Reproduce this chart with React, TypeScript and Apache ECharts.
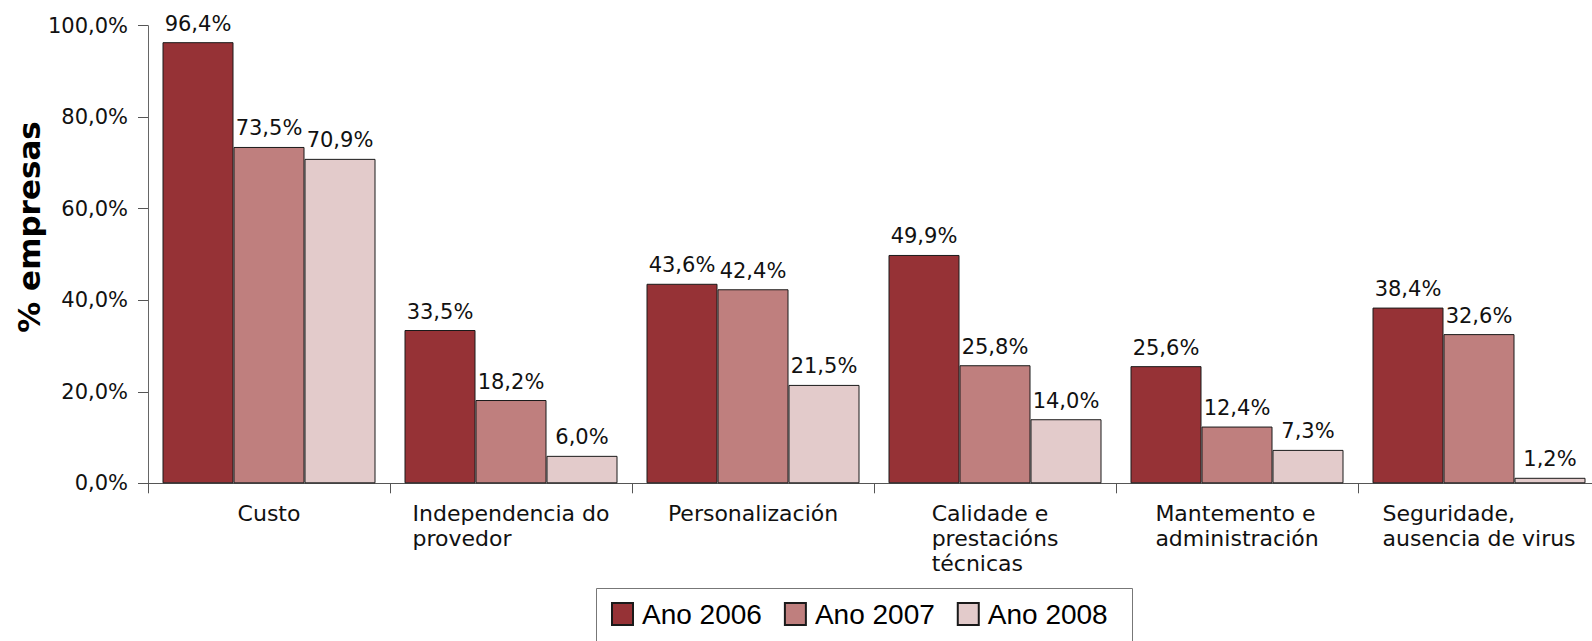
import React, { useEffect, useRef } from "react";
import * as echarts from "echarts";

const categories = [
  "Custo",
  "Independencia do\nprovedor",
  "Personalización",
  "Calidade e\nprestacións\ntécnicas",
  "Mantemento e\nadministración",
  "Seguridade,\nausencia de virus",
];
const seriesNames = ["Ano 2006", "Ano 2007", "Ano 2008"];
const values2006 = [96.4, 33.5, 43.6, 49.9, 25.6, 38.4];
const values2007 = [73.5, 18.2, 42.4, 25.8, 12.4, 32.6];
const values2008 = [70.9, 6.0, 21.5, 14.0, 7.3, 1.2];
const colors = ["#963236", "#bf7f7e", "#e3cbcb"];
const yAxisTitle = "% empresas";

const fmt = (v: number) => v.toFixed(1).replace(".", ",") + "%";

export default function App() {
  const ref = useRef<HTMLDivElement>(null);
  useEffect(() => {
    if (!ref.current) return;
    const chart = echarts.init(ref.current, null, { renderer: "svg" });
    const font = "DejaVu Sans";
    const data = [values2006, values2007, values2008];
    chart.setOption({
      animation: false,
      backgroundColor: "#ffffff",
      grid: {
        left: 148,
        right: -8,
        top: 25.7,
        bottom: 157.7,
        containLabel: false,
        outerBoundsMode: "none",
      },
      xAxis: {
        type: "category",
        data: categories,
        axisLine: { lineStyle: { color: "#555", width: 1 } },
        axisTick: { show: true, length: 10, alignWithLabel: false, lineStyle: { color: "#555" } },
        axisLabel: {
          interval: 0,
          margin: 18,
          formatter: (v: string) => `{l|${v}}`,
          rich: {
            l: {
              align: "left",
              fontFamily: font,
              fontSize: 22,
              lineHeight: 25,
              color: "#111",
            },
          },
        },
      },
      yAxis: {
        type: "value",
        min: 0,
        max: 100,
        interval: 20,
        splitLine: { show: false },
        axisLine: { show: true, lineStyle: { color: "#666", width: 1 } },
        axisTick: { show: true, length: 10, lineStyle: { color: "#555" } },
        axisLabel: {
          margin: 20,
          formatter: (v: number) => fmt(v),
          fontFamily: font,
          fontSize: 21,
          color: "#111",
        },
      },
      legend: {
        left: 611,
        top: 600,
        itemWidth: 21,
        itemHeight: 22,
        itemGap: 22,
        icon: "rect",
        padding: 0,
        data: seriesNames,
        textStyle: {
          fontFamily: "Liberation Sans",
          fontSize: 28,
          color: "#000",
          padding: [0, 0, 0, 4],
        },
      },
      graphic: [
        {
          type: "rect",
          shape: { x: 596.5, y: 588.5, width: 536, height: 80 },
          style: { fill: "none", stroke: "#777", lineWidth: 1 },
          silent: true,
        },
        {
          type: "text",
          x: 29,
          y: 227,
          rotation: Math.PI / 2,
          style: {
            text: yAxisTitle,
            fontFamily: font,
            fontWeight: "bold",
            fontSize: 31,
            align: "center",
            verticalAlign: "middle",
            fill: "#000",
          },
        },
      ],
      series: seriesNames.map((name, i) => ({
        name,
        type: "bar",
        data: data[i],
        barWidth: 71,
        barGap: "0%",
        itemStyle: { color: colors[i], borderColor: "#1a1a1a", borderWidth: 1 },
        label: {
          show: true,
          position: "top",
          distance: 8,
          formatter: (p: any) => fmt(p.value),
          fontFamily: font,
          fontSize: 21,
          color: "#111",
        },
      })),
    });
    return () => chart.dispose();
  }, []);
  return (
    <div
      ref={ref}
      style={{ position: "absolute", left: 0, top: 0, width: 1592, height: 641 }}
    />
  );
}
